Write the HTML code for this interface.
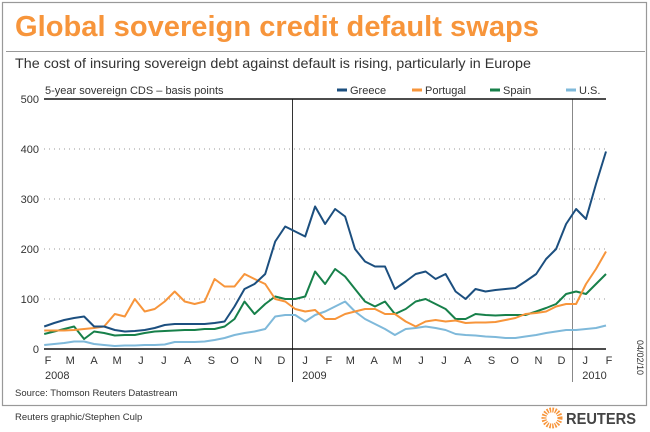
<!DOCTYPE html>
<html><head><meta charset="utf-8"><style>
body{margin:0;background:#fff;}
svg{display:block;font-family:"Liberation Sans",sans-serif;}
</style></head><body>
<svg id="chart" width="650" height="432" viewBox="0 0 650 432">
<rect x="2.5" y="2.5" width="644" height="403" fill="#fff" stroke="#999" stroke-width="1.2"/>
<text x="15" y="36" font-size="29" font-weight="bold" fill="#f7953b" textLength="524" lengthAdjust="spacingAndGlyphs">Global sovereign credit default swaps</text>
<line x1="6" y1="51.5" x2="645" y2="51.5" stroke="#999" stroke-width="1"/>
<text x="15" y="68" font-size="14" fill="#333" textLength="516" lengthAdjust="spacingAndGlyphs">The cost of insuring sovereign debt against default is rising, particularly in Europe</text>
<text x="45" y="94" font-size="11" fill="#333">5-year sovereign CDS – basis points</text>
<g id="legend"></g>
<g id="grid"></g>
<g id="series"></g>
<g id="axes"></g>
<text x="15" y="396" font-size="9.5" fill="#333">Source: Thomson Reuters Datastream</text>
<text transform="translate(637,340) rotate(90)" font-size="9" fill="#333">04/02/10</text>
<text x="15" y="420" font-size="9.5" fill="#333">Reuters graphic/Stephen Culp</text>
<g>
<circle cx="552" cy="418" r="8" fill="none" stroke="#f7953b" stroke-width="5" stroke-dasharray="1.5 1.2"/>
<text x="566" y="424" font-size="16" font-weight="bold" fill="#444" textLength="70" lengthAdjust="spacingAndGlyphs">REUTERS</text>
</g>
</svg>
<script>
const categories=["2008-02-13","2008-02-26","2008-03-10","2008-03-23","2008-04-05","2008-04-18","2008-05-01","2008-05-15","2008-05-28","2008-06-10","2008-06-23","2008-07-06","2008-07-19","2008-08-01","2008-08-14","2008-08-27","2008-09-09","2008-09-22","2008-10-05","2008-10-18","2008-10-31","2008-11-13","2008-11-27","2008-12-10","2008-12-23","2009-01-05","2009-01-18","2009-01-31","2009-02-13","2009-02-26","2009-03-11","2009-03-24","2009-04-06","2009-04-19","2009-05-02","2009-05-15","2009-05-29","2009-06-11","2009-06-24","2009-07-07","2009-07-20","2009-08-02","2009-08-15","2009-08-28","2009-09-10","2009-09-23","2009-10-06","2009-10-19","2009-11-01","2009-11-15","2009-11-28","2009-12-11","2009-12-24","2010-01-06","2010-01-19","2010-02-01","2010-02-14"];
const greece=[45,52,58,62,65,45,45,38,35,36,38,42,48,50,50,50,50,52,55,85,120,130,150,215,245,235,225,285,250,280,265,200,175,165,165,120,135,150,155,140,150,115,100,120,115,118,120,122,135,150,180,200,250,280,260,330,395];
const portugal=[37,37,37,38,40,42,45,70,65,100,75,80,95,115,95,90,95,140,125,125,150,140,130,100,95,80,75,78,60,60,70,75,80,80,70,70,55,45,55,58,55,57,52,53,53,54,58,62,70,72,75,85,90,90,130,160,195];
const spain=[30,35,40,45,20,35,32,27,28,28,32,35,36,37,38,38,40,40,45,60,95,70,90,105,100,100,105,155,130,160,145,120,95,85,95,70,80,95,100,90,80,60,60,70,68,67,68,68,68,75,82,90,110,115,110,130,150];
const us=[8,10,12,15,15,10,8,6,7,7,8,8,9,14,14,14,15,18,22,28,32,35,40,65,68,68,55,68,75,85,95,75,60,50,40,28,40,42,45,42,38,30,28,27,25,24,22,22,25,28,32,35,38,38,40,42,47];
const seriesNames=["Greece","Portugal","Spain","U.S."];
const yTicks=[0,100,200,300,400,500];
const monthLabels=["F","M","A","M","J","J","A","S","O","N","D","J","F","M","A","M","J","J","A","S","O","N","D","J","F"];
const monthDates=["2008-02-01","2008-03-01","2008-04-01","2008-05-01","2008-06-01","2008-07-01","2008-08-01","2008-09-01","2008-10-01","2008-11-01","2008-12-01","2009-01-01","2009-02-01","2009-03-01","2009-04-01","2009-05-01","2009-06-01","2009-07-01","2009-08-01","2009-09-01","2009-10-01","2009-11-01","2009-12-01","2010-01-01","2010-02-01"];
const yearLabels=["2008","2009","2010"];
const yearDates=["2008-02-01","2009-01-01","2010-01-01"];

const NS="http://www.w3.org/2000/svg";
const colors=["#1c4f7f","#f7953b","#17804a","#7fb9da"];
const XA=35,XB=606,X0=44,X1=606,Y0=349,Y1=99;
const t0=Date.parse("2008-02-01"),t1=Date.parse("2010-02-14");
function xScale(d){return XA+(Date.parse(d)-t0)/(t1-t0)*(XB-XA);}
function yScale(v){return Y0-v/500*(Y0-Y1);}
function mk(tag,attrs,parent){const e=document.createElementNS(NS,tag);for(const k in attrs)e.setAttribute(k,attrs[k]);parent.appendChild(e);return e;}
const grid=document.getElementById("grid"),axes=document.getElementById("axes"),ser=document.getElementById("series"),leg=document.getElementById("legend");
yTicks.forEach(v=>{
  const y=yScale(v);
  if(v>0&&v<500){const l=mk("line",{x1:X0,x2:X1,y1:y,y2:y,stroke:"#999","stroke-width":1,"stroke-dasharray":"1 4"},grid);
  
  }
  const t=mk("text",{x:X0-5,y:y+4,"font-size":11,fill:"#333","text-anchor":"end"},axes);t.textContent=v;
  
  
});
["2009-01-01","2010-01-01"].forEach((d,i)=>{
  const x=Math.round(xScale(d))+0.5;
  const l=mk("line",{x1:x,x2:x,y1:Y1,y2:382,stroke:i?"#888":"#333","stroke-width":1},grid);
  
  
});
const series=[greece,portugal,spain,us];
[3,2,1,0].forEach(si=>{
  const pts=series[si].map((v,i)=>xScale(categories[i]).toFixed(1)+","+yScale(v).toFixed(1)).join(" ");
  const p=mk("polyline",{points:pts,fill:"none",stroke:colors[si],"stroke-width":2,"stroke-linejoin":"round"},ser);
  
  
});
[Y1,Y0].forEach(y=>{
  const l=mk("line",{x1:X0,x2:X1,y1:y,y2:y,stroke:"#111","stroke-width":1.6},axes);
  
  
});
monthLabels.forEach((m,i)=>{
  const x=xScale(monthDates[i]);
  const t=mk("text",{x:x+13,y:364,"font-size":11,fill:"#333","text-anchor":"middle"},axes);t.textContent=m;
  
  
});
yearLabels.forEach((yl,i)=>{
  const x=i===0?45:xScale(yearDates[i])+10;
  const t=mk("text",{x:x,y:379,"font-size":11,fill:"#333"},axes);t.textContent=yl;
  
  
});
const legX=[337,412,490,566];
seriesNames.forEach((n,i)=>{
  const l=mk("line",{x1:legX[i],x2:legX[i]+10,y1:90,y2:90,stroke:colors[i],"stroke-width":3},leg);
  
  
  const t=mk("text",{x:legX[i]+13,y:94,"font-size":11,fill:"#333"},leg);t.textContent=n;
  
  
});
</script>
</body></html>
